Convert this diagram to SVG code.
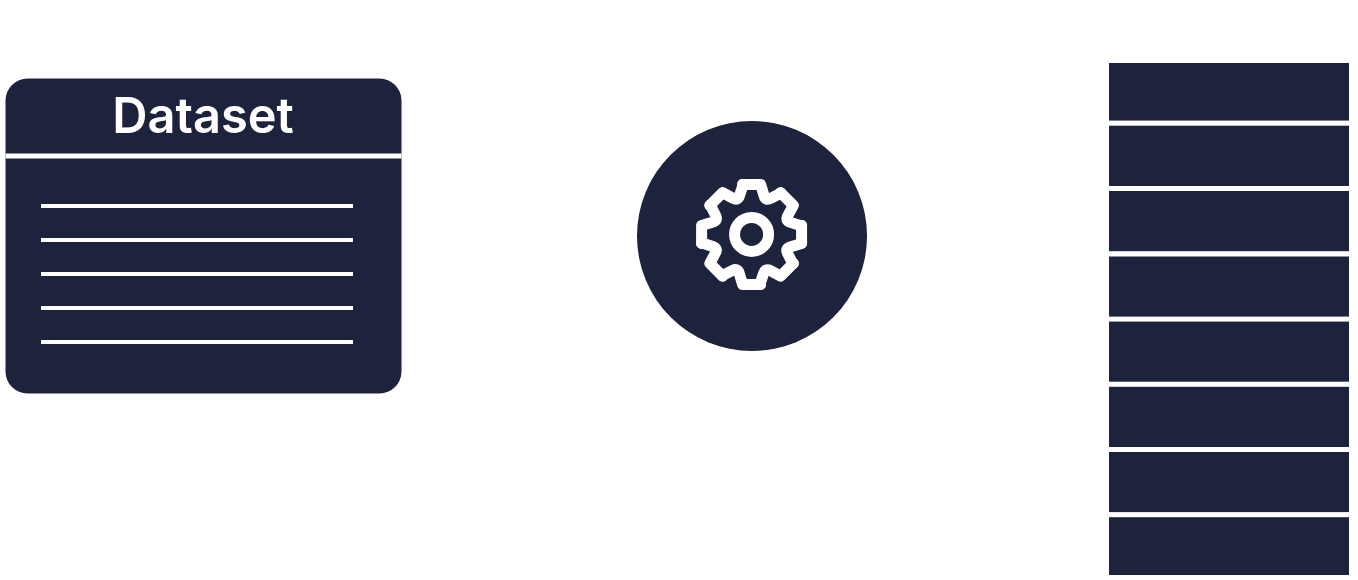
<svg xmlns="http://www.w3.org/2000/svg" width="1358" height="580" viewBox="0 0 1358 580">
<style>
.fill{fill:#1d233c}
.w{fill:#fff}
.seg{fill:none;stroke:#fff;stroke-width:11;stroke-linecap:round;stroke-linejoin:round}
.title{font-family:Inter,"Liberation Sans",sans-serif;font-size:48.800px;font-weight:600;fill:#fff;text-anchor:middle}
</style>
<defs>
<path id="sector" class="seg" d="M-9-50H9L12.500-38.500Q14-33.500 19-36L28.900-41L29.050-41.700"/>
</defs>
<rect width="1358" height="580" fill="#fff"/>
<g id="dataset">
<rect class="fill" x="5.500" y="78.500" width="396" height="315" rx="22"/>
<rect class="w" x="5.500" y="153.500" width="396" height="5"/>
<rect class="w" x="41" y="204" width="312" height="4"/>
<rect class="w" x="41" y="238" width="312" height="4"/>
<rect class="w" x="41" y="272" width="312" height="4"/>
<rect class="w" x="41" y="306" width="312" height="4"/>
<rect class="w" x="41" y="340" width="312" height="4"/>
<text class="title" x="203" y="132.500">Dataset</text>
</g>
<g id="processor">
<circle class="fill" cx="752" cy="236" r="115"/>
<g transform="translate(751.600 234.400)">
<use href="#sector"/>
<use href="#sector" transform="rotate(45)"/>
<use href="#sector" transform="rotate(90)"/>
<use href="#sector" transform="rotate(135)"/>
<use href="#sector" transform="rotate(180)"/>
<use href="#sector" transform="rotate(225)"/>
<use href="#sector" transform="rotate(270)"/>
<use href="#sector" transform="rotate(315)"/>
<circle r="17" fill="none" stroke="#fff" stroke-width="11"/>
</g>
</g>
<g id="output">
<rect class="fill" x="1109" y="63" width="240" height="57.600"/>
<rect class="fill" x="1109" y="125.700" width="240" height="60.300"/>
<rect class="fill" x="1109" y="191" width="240" height="60.200"/>
<rect class="fill" x="1109" y="256.500" width="240" height="60.100"/>
<rect class="fill" x="1109" y="321.600" width="240" height="60.100"/>
<rect class="fill" x="1109" y="386.800" width="240" height="60.200"/>
<rect class="fill" x="1109" y="452" width="240" height="60.100"/>
<rect class="fill" x="1109" y="517.200" width="240" height="57.800"/>
</g>
<g id="connectors"></g>
</svg>
